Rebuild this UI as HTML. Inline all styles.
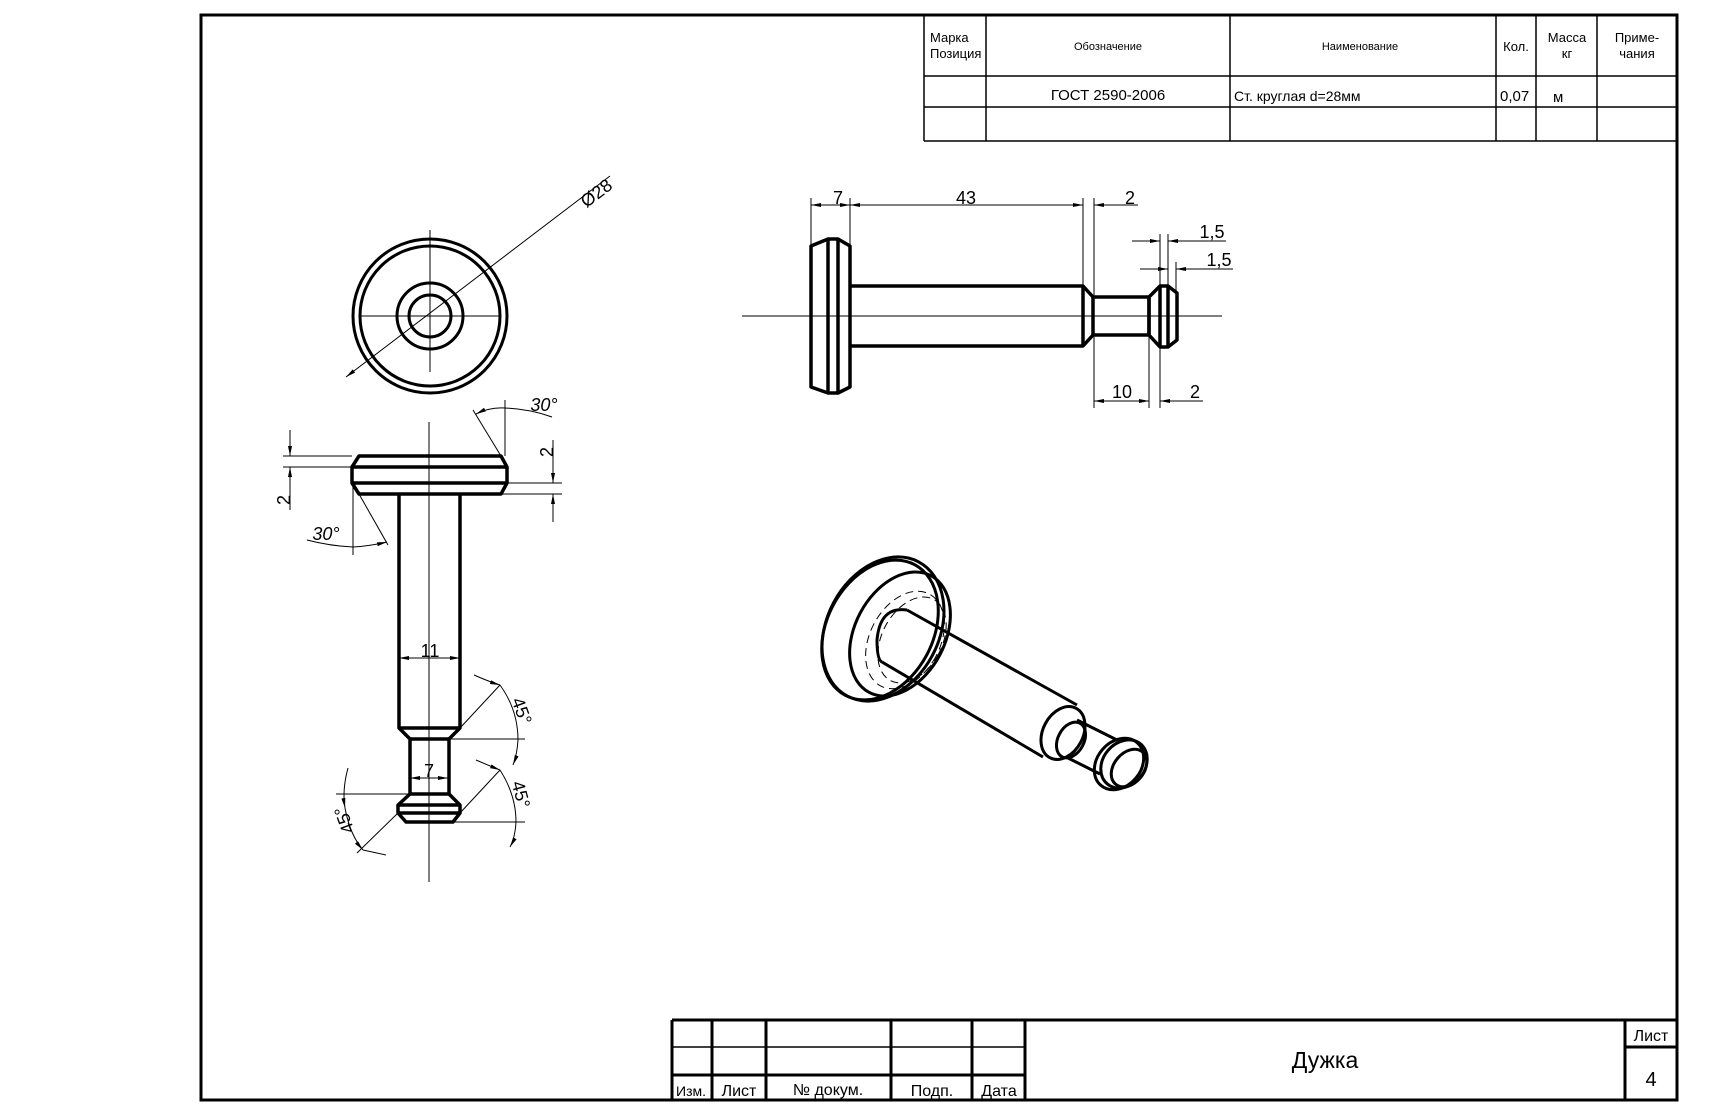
<!DOCTYPE html>
<html><head><meta charset="utf-8"><style>
html,body{margin:0;padding:0;background:#fff}
svg{display:block}
text{font-family:"Liberation Sans",sans-serif;fill:#000}
</style></head><body>
<svg width="1723" height="1115" viewBox="0 0 1723 1115" xmlns="http://www.w3.org/2000/svg">
<defs>
<marker id="a" viewBox="0 0 10 4" refX="10" refY="2" markerWidth="10" markerHeight="4" orient="auto-start-reverse" markerUnits="userSpaceOnUse"><path d="M0,0 L10,2 L0,4z" fill="#000"/></marker>
</defs>
<g fill="none" stroke="#000">
<!-- frame -->
<rect x="201" y="15" width="1476" height="1085" stroke-width="3"/>
<!-- spec table -->
<g stroke-width="1.5">
<line x1="924" y1="15" x2="924" y2="141"/>
<line x1="924" y1="141" x2="1677" y2="141"/>
<line x1="924" y1="76" x2="1677" y2="76"/>
<line x1="924" y1="107" x2="1677" y2="107"/>
<line x1="986" y1="15" x2="986" y2="141"/>
<line x1="1230" y1="15" x2="1230" y2="141"/>
<line x1="1496" y1="15" x2="1496" y2="141"/>
<line x1="1536" y1="15" x2="1536" y2="141"/>
<line x1="1597" y1="15" x2="1597" y2="141"/>
</g>
<!-- title block -->
<g stroke-width="3">
<line x1="672" y1="1020" x2="1677" y2="1020"/>
<line x1="672" y1="1020" x2="672" y2="1100"/>
<line x1="712" y1="1020" x2="712" y2="1100"/>
<line x1="766" y1="1020" x2="766" y2="1100"/>
<line x1="891" y1="1020" x2="891" y2="1100"/>
<line x1="972" y1="1020" x2="972" y2="1100"/>
<line x1="1025" y1="1020" x2="1025" y2="1100"/>
<line x1="1625" y1="1020" x2="1625" y2="1100"/>
<line x1="1625" y1="1047" x2="1677" y2="1047"/>
<line x1="672" y1="1075" x2="1025" y2="1075"/>
</g>
<line x1="672" y1="1047" x2="1025" y2="1047" stroke-width="1.5"/>

<!-- top view circles -->
<g stroke-width="3">
<circle cx="430" cy="316" r="77"/>
<circle cx="430" cy="316" r="70"/>
<circle cx="430" cy="316" r="33"/>
<circle cx="430" cy="316" r="21"/>
</g>
<g stroke-width="1">
<line x1="346" y1="377" x2="610" y2="176" marker-start="url(#a)"/>
<line x1="430" y1="230" x2="430" y2="372"/>
<line x1="360" y1="316" x2="500" y2="316"/>
</g>

<!-- front (bottom) view -->
<g stroke-width="3.5" stroke-linejoin="round">
<polygon points="359,456 501,456 507,467 507,483 501,494 359,494 352,483 352,467"/>
<line x1="352" y1="467" x2="507" y2="467"/>
<line x1="352" y1="483" x2="507" y2="483"/>
<polyline points="399,494 399,728 410,739 410,794"/>
<polyline points="460,494 460,728 449,739 449,794"/>
<line x1="399" y1="728" x2="460" y2="728"/>
<line x1="410" y1="739" x2="449" y2="739"/>
<polygon points="410,794 449,794 460,805 460,813 453,822 406,822 398,813 398,805"/>
<line x1="398" y1="805" x2="460" y2="805"/>
<line x1="398" y1="813" x2="460" y2="813"/>
</g>
<g stroke-width="1">
<line x1="429" y1="422" x2="429" y2="882"/>
<!-- left 2 -->
<line x1="283" y1="456" x2="352" y2="456"/><line x1="283" y1="467" x2="352" y2="467"/>
<line x1="290" y1="430" x2="290" y2="456" marker-end="url(#a)"/>
<line x1="290" y1="510" x2="290" y2="467" marker-end="url(#a)"/>
<!-- right 2 -->
<line x1="507" y1="483" x2="562" y2="483"/><line x1="501" y1="494" x2="562" y2="494"/>
<line x1="553" y1="440" x2="553" y2="483" marker-end="url(#a)"/>
<line x1="553" y1="522" x2="553" y2="494" marker-end="url(#a)"/>
<!-- 30 top -->
<line x1="473" y1="410" x2="501" y2="456"/>
<line x1="505" y1="400" x2="505" y2="456"/>
<path d="M476,414 Q490,407 505,408" marker-start="url(#a)"/>
<path d="M505,408 Q530,409 552,417"/>
<!-- 30 bottom -->
<line x1="359" y1="494" x2="388" y2="545"/>
<line x1="353" y1="483" x2="353" y2="555"/>
<path d="M307,540 Q330,546 353,547"/>
<path d="M353,547 Q370,546 387,542" marker-end="url(#a)"/>
<!-- 11 -->
<line x1="429" y1="658" x2="399" y2="658" marker-end="url(#a)"/>
<line x1="429" y1="658" x2="460" y2="658" marker-end="url(#a)"/>
<!-- 7 -->
<line x1="429" y1="778" x2="410" y2="778" marker-end="url(#a)"/>
<line x1="429" y1="778" x2="448" y2="778" marker-end="url(#a)"/>
<!-- 45 upper right -->
<line x1="460" y1="728" x2="500" y2="685"/>
<line x1="449" y1="739" x2="525" y2="739"/>
<path d="M474,675 Q490,682 500,685" marker-end="url(#a)"/>
<path d="M500,685 Q518,710 518,740 Q517,755 513,765" marker-end="url(#a)"/>
<!-- 45 lower right -->
<line x1="460" y1="813" x2="500" y2="770"/>
<line x1="453" y1="822" x2="525" y2="822"/>
<path d="M476,760 Q490,766 500,770" marker-end="url(#a)"/>
<path d="M500,770 Q516,795 516,822 Q515,838 510,847" marker-end="url(#a)"/>
<!-- 45 left -->
<line x1="398" y1="813" x2="357" y2="853"/>
<line x1="336" y1="794" x2="410" y2="794"/>
<path d="M348,768 Q342,790 345,808" marker-end="url(#a)"/>
<path d="M345,808 Q350,835 363,850" marker-end="url(#a)"/>
<line x1="363" y1="850" x2="386" y2="855"/>
</g>

<!-- side view -->
<g stroke-width="3.5" stroke-linejoin="round">
<polygon points="811,246 828,239 838,239 850,246 850,387 838,393 828,393 811,387"/>
<line x1="828" y1="239" x2="828" y2="393"/>
<line x1="838" y1="239" x2="838" y2="393"/>
<polyline points="850,286 1083,286 1093,297 1149,297"/>
<polyline points="850,346 1083,346 1093,335 1149,335"/>
<line x1="1083" y1="286" x2="1083" y2="346"/>
<line x1="1093" y1="297" x2="1093" y2="335"/>
<polygon points="1149,297 1160,286 1168,286 1177,293 1177,340 1168,347 1160,347 1149,335"/>
<line x1="1149" y1="297" x2="1149" y2="335"/>
<line x1="1160" y1="286" x2="1160" y2="347"/>
<line x1="1168" y1="286" x2="1168" y2="347"/>
</g>
<g stroke-width="1">
<line x1="742" y1="316" x2="1222" y2="316"/>
<line x1="811" y1="198" x2="811" y2="246"/>
<line x1="850" y1="198" x2="850" y2="286"/>
<line x1="1083" y1="198" x2="1083" y2="286"/>
<line x1="1094" y1="198" x2="1094" y2="297"/>
<line x1="830" y1="205" x2="811" y2="205" marker-end="url(#a)"/>
<line x1="830" y1="205" x2="850" y2="205" marker-end="url(#a)"/>
<line x1="966" y1="205" x2="850" y2="205" marker-end="url(#a)"/>
<line x1="966" y1="205" x2="1083" y2="205" marker-end="url(#a)"/>
<line x1="1138" y1="205" x2="1094" y2="205" marker-end="url(#a)"/>
<line x1="1160" y1="234" x2="1160" y2="286"/>
<line x1="1168" y1="234" x2="1168" y2="286"/>
<line x1="1176" y1="262" x2="1176" y2="293"/>
<line x1="1132" y1="241" x2="1160" y2="241" marker-end="url(#a)"/>
<line x1="1226" y1="241" x2="1168" y2="241" marker-end="url(#a)"/>
<line x1="1140" y1="269" x2="1168" y2="269" marker-end="url(#a)"/>
<line x1="1233" y1="269" x2="1176" y2="269" marker-end="url(#a)"/>
<line x1="1094" y1="335" x2="1094" y2="408"/>
<line x1="1149" y1="335" x2="1149" y2="408"/>
<line x1="1160" y1="347" x2="1160" y2="408"/>
<line x1="1121" y1="401" x2="1094" y2="401" marker-end="url(#a)"/>
<line x1="1121" y1="401" x2="1149" y2="401" marker-end="url(#a)"/>
<line x1="1203" y1="401" x2="1160" y2="401" marker-end="url(#a)"/>
</g>

<!-- isometric view -->
<g stroke-width="3">
<ellipse cx="883" cy="629" rx="56" ry="76" transform="rotate(28 883 629)"/>
<ellipse cx="880" cy="630" rx="53" ry="74" transform="rotate(28 880 630)"/>
<ellipse cx="900" cy="634" rx="45" ry="66" transform="rotate(28 900 634)"/>
<path d="M907,610 Q880,606 877,640 Q877,660 882,662"/>
<line x1="907" y1="610" x2="1077" y2="705"/>
<line x1="882" y1="662" x2="1043" y2="757"/>
<ellipse cx="1063" cy="733" rx="20" ry="28" transform="rotate(28 1063 733)"/>
<ellipse cx="1071" cy="740" rx="13" ry="19" transform="rotate(28 1071 740)"/>
<line x1="1077" y1="720" x2="1117" y2="740"/>
<line x1="1068" y1="758" x2="1100" y2="774"/>
<ellipse cx="1119" cy="764" rx="22" ry="28" transform="rotate(40 1119 764)"/>
<ellipse cx="1124" cy="764" rx="21" ry="26" transform="rotate(40 1124 764)"/>
<ellipse cx="1129" cy="768" rx="15" ry="21" transform="rotate(40 1129 768)"/>
</g>
<g stroke-width="1" stroke-dasharray="8,5">
<ellipse cx="905" cy="640" rx="35" ry="52" transform="rotate(28 905 640)"/>
<ellipse cx="912" cy="640" rx="30" ry="46" transform="rotate(28 912 640)"/>
</g>
</g>

<!-- texts -->
<g font-size="13">
<text x="930" y="42">Марка</text>
<text x="930" y="58">Позиция</text>
<text x="1108" y="50" text-anchor="middle" font-size="11">Обозначение</text>
<text x="1360" y="50" text-anchor="middle" font-size="11">Наименование</text>
<text x="1516" y="51" text-anchor="middle">Кол.</text>
<text x="1567" y="42" text-anchor="middle">Масса</text>
<text x="1567" y="58" text-anchor="middle">кг</text>
<text x="1637" y="42" text-anchor="middle">Приме-</text>
<text x="1637" y="58" text-anchor="middle">чания</text>
<text x="1108" y="100" text-anchor="middle" font-size="15">ГОСТ 2590-2006</text>
<text x="1234" y="101" font-size="14">Ст. круглая d=28мм</text>
<text x="1500" y="101" font-size="15">0,07</text>
<text x="1553" y="102" font-size="15">м</text>
</g>
<g font-size="16">
<text x="691" y="1096" text-anchor="middle" font-size="14">Изм.</text>
<text x="739" y="1096" text-anchor="middle">Лист</text>
<text x="828" y="1095" text-anchor="middle">№ докум.</text>
<text x="932" y="1096" text-anchor="middle">Подп.</text>
<text x="999" y="1096" text-anchor="middle">Дата</text>
<text x="1651" y="1041" text-anchor="middle">Лист</text>
<text x="1651" y="1086" text-anchor="middle" font-size="20">4</text>
<text x="1325" y="1068" text-anchor="middle" font-size="23">Дужка</text>
</g>
<g font-size="18">
<text x="600" y="198" transform="rotate(-37 600 198)" text-anchor="middle">Ø28</text>
<text x="838" y="204" text-anchor="middle">7</text>
<text x="966" y="204" text-anchor="middle">43</text>
<text x="1130" y="204" text-anchor="middle">2</text>
<text x="1212" y="238" text-anchor="middle">1,5</text>
<text x="1219" y="266" text-anchor="middle">1,5</text>
<text x="1122" y="398" text-anchor="middle">10</text>
<text x="1195" y="398" text-anchor="middle">2</text>
<text x="430" y="657" text-anchor="middle">11</text>
<text x="429" y="777" text-anchor="middle">7</text>
<text x="544" y="411" text-anchor="middle" font-style="italic">30°</text>
<text x="326" y="540" text-anchor="middle" font-style="italic">30°</text>
<text x="0" y="0" transform="translate(290,500) rotate(-90)" text-anchor="middle">2</text>
<text x="0" y="0" transform="translate(553,452) rotate(-90)" text-anchor="middle">2</text>
<text x="0" y="0" transform="translate(516,713) rotate(70)" text-anchor="middle">45°</text>
<text x="0" y="0" transform="translate(515,796) rotate(75)" text-anchor="middle">45°</text>
<text x="0" y="0" transform="translate(350,818) rotate(-110)" text-anchor="middle">45°</text>
</g>
</svg>
</body></html>
